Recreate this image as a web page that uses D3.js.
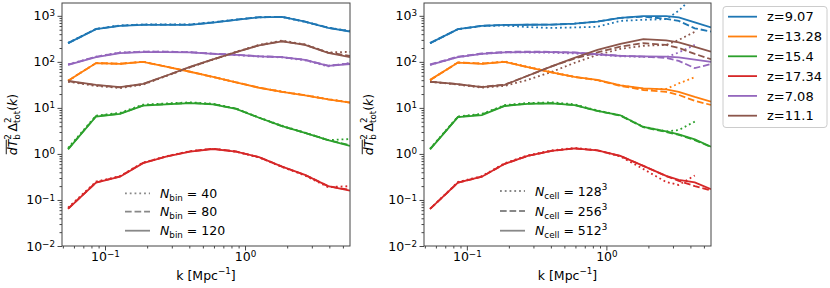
<!DOCTYPE html>
<html><head><meta charset="utf-8">
<script src="https://cdn.jsdelivr.net/npm/d3@7"></script>
<style>
body{margin:0;background:#fff}
svg{display:block}
text{font-family:"DejaVu Sans",sans-serif;fill:#000;white-space:pre}
</style></head>
<body><svg id="c" width="830" height="288"></svg>
<script>
// ---------------- data ----------------
const zLabels = ["z=9.07","z=13.28","z=15.4","z=17.34","z=7.08","z=11.1"];
const zColors = ["#1f77b4","#ff7f0e","#2ca02c","#d62728","#9467bd","#8c564b"];

const kLeft = [0.0545,0.0863,0.128,0.187,0.273,0.405,0.590,0.863,1.26,1.84,2.68,3.92,5.62];
const kRight = [0.0545,0.0863,0.128,0.187,0.273,0.405,0.590,0.863,1.26,1.84,2.68,3.3,4.3,5.62];
const kRight128 = [0.0545,0.0863,0.128,0.187,0.273,0.405,0.590,0.863,1.26,1.84,2.68,3.3,4.3];

// left panel: N_bin = 120 (solid), 80 (dashed), 40 (dotted); rows follow zLabels
const left_Nbin120 = [
 [255,514,606,637,637,637,715,819,928,950,745,548,456],
 [39,94,90,100,79,61,47,36,27.4,22.3,18.7,15.3,13.0],
 [1.26,6.5,7.4,11.2,11.9,12.7,11.9,9.5,6.1,4.0,2.86,2.0,1.49],
 [0.064,0.238,0.32,0.63,0.87,1.12,1.28,1.12,0.85,0.53,0.35,0.20,0.16],
 [86,127,155,163,163,160,149,142,132,127,110,82,90],
 [38.6,31.6,28.2,33.2,50,77.5,113,162,228,279,234,157,127]
];
const left_Nbin80 = [
 [255,518,612,642,642,642,720,825,935,955,750,552,460],
 [39,94,91,100,79,61,47,36,27.5,22.4,18.8,15.4,13.1],
 [1.28,6.6,7.5,11.4,12.1,12.9,12.1,9.6,6.1,4.0,2.88,2.0,1.55],
 [0.065,0.24,0.325,0.64,0.88,1.14,1.3,1.13,0.85,0.53,0.35,0.2,0.165],
 [87,129,158,166,166,162,151,143,133,127,111,83,92],
 [38,31,27.8,33,50,77,113,163,230,282,236,159,135]
];
const left_Nbin40 = [
 [258,522,620,650,650,655,725,830,930,940,740,555,470],
 [39,94,91,101,79,61,47,36,27.5,22.5,18.9,15.5,13.2],
 [1.35,6.8,7.8,11.8,12.5,13.2,12.3,9.7,6.2,4.1,2.9,2.0,2.1],
 [0.068,0.25,0.33,0.65,0.89,1.15,1.3,1.12,0.84,0.52,0.34,0.19,0.2],
 [88,130,160,167,167,163,150,140,130,125,108,80,95],
 [37,30,27,32,49,76,112,165,235,290,240,160,165]
];
// right panel: N_cell = 512^3 (solid), 256^3 (dashed), 128^3 (dotted)
const right_Ncell512 = [
 [255,514,606,637,640,645,675,752,906,990,990,927,722,562],
 [40.6,96.6,90,100,77,59,47,40.6,30.8,26.5,25.2,22.3,17.3,13.7],
 [1.26,6.3,7.0,11,12.2,12.5,11.5,8.6,6.9,3.86,3.08,2.65,2.07,1.44],
 [0.064,0.238,0.32,0.61,0.905,1.16,1.32,1.19,0.905,0.55,0.333,0.272,0.24,0.171],
 [86,127,149,160,163,162,158,145,135,131,130,125,112,100],
 [37.3,32.7,28.2,31.6,50,80,122,182,246,311,293,265,212,167]
];
const right_Ncell256 = [
 [255,514,606,637,640,645,675,752,900,960,861,778,535,456],
 [40,97,92,100,77,59,47,40,30,24.5,22.3,19.2,14.2,11.6],
 [1.28,6.4,7.2,11.2,12.4,12.7,11.6,8.6,6.8,3.8,3.0,2.6,2.0,1.42],
 [0.064,0.238,0.32,0.61,0.905,1.16,1.32,1.19,0.9,0.55,0.33,0.26,0.2,0.16],
 [88,130,152,165,167,165,160,147,136,130,122,105,73,90],
 [37,32.7,28.5,32,50,80,118,160,215,255,234,201,149,114]
];
const right_Ncell128 = [
 [255,514,600,615,570,545,560,577,778,819,847,1285,2860],
 [40,97,92,102,78,60,47,40,31,26,25.8,34,46.5],
 [1.3,6.5,7.4,11.5,12.8,13.2,12,8.8,6.9,3.9,3.1,3.3,5.04],
 [0.064,0.245,0.33,0.63,0.93,1.2,1.35,1.2,0.88,0.47,0.246,0.212,0.34],
 [86,127,149,160,160,158,152,142,132,128,126,160,234],
 [37,32,27.5,30,40.6,60.6,95,142,192,223,234,300,449]
];

const yTickExp = ["−2","−1","0","1","2","3"];
const xTickExp = ["−1","0"];
const leftStyleLabels = ["40","80","120"];
const rightStyleLabels = ["128","256","512"];

// ---------------- layout ----------------
const svg = d3.select("#c");
const yTop = 3, yBot = 246;
const xDomain = [0.0493, 5.62], yDomain = [0.01, 1900];
const LW = 1.8;
const dashes = {dot:`${1*LW},${1.65*LW}`, dash:`${3.7*LW},${1.6*LW}`, solid:null};
const FS = 12.5;
const SP = "\u00a0";

function mathText(parent, pieces, size) {
  const g = parent.append("g");
  let x = 0, lastStart = 0;
  pieces.forEach(p => {
    const fs = size * (p.scale || 1);
    const sx = p.stack ? lastStart : x;
    const t = g.append("text").attr("x", sx).attr("y", -(p.shift || 0) * size)
      .attr("font-size", fs).attr("font-style", p.italic ? "italic" : "normal").text(p.t);
    const w = t.node().getComputedTextLength();
    if (p.overline) {
      g.append("line").attr("x1", sx + 1).attr("x2", sx + w).attr("y1", -size * 0.86).attr("y2", -size * 0.86)
        .attr("stroke", "#000").attr("stroke-width", 0.9);
    }
    if (p.stack) x = Math.max(x, sx + w);
    else { x = x + w; if (p.script) lastStart = sx; }
  });
  return {g, w: x};
}

const ylabelPieces = [
  {t:"dT", italic:true, overline:true},
  {t:"2", scale:0.7, shift:0.5, script:true},
  {t:"b", scale:0.7, shift:-0.25, stack:true},
  {t:"\u2009Δ"},
  {t:"2", scale:0.7, shift:0.5, script:true},
  {t:"tot", scale:0.7, shift:-0.25, stack:true},
  {t:"("}, {t:"k", italic:true}, {t:")"}
];

function drawPanel(x0, x1, kArrs, dataSets, styles, ylabX, legendLabels, legendKind, legX) {
  const x = d3.scaleLog().domain(xDomain).range([x0, x1]);
  const y = d3.scaleLog().domain(yDomain).range([yBot, yTop]);
  const id = "clip" + x0;
  svg.append("clipPath").attr("id", id).append("rect")
    .attr("x", x0).attr("y", yTop).attr("width", x1 - x0).attr("height", yBot - yTop);
  const line = d3.line().x(d => x(d[0])).y(d => y(d[1]));
  const gl = svg.append("g").attr("clip-path", `url(#${id})`);
  dataSets.forEach((set, si) => {
    set.forEach((vals, ci) => {
      const pts = vals.map((v, i) => [kArrs[si][i], v]);
      gl.append("path").attr("d", line(pts)).attr("fill", "none")
        .attr("stroke", zColors[ci]).attr("stroke-width", LW)
        .attr("stroke-dasharray", dashes[styles[si]]);
    });
  });
  // axes
  const majY = yTickExp.map((e, i) => Math.pow(10, i - 2));
  const minY = [];
  for (let e = -2; e <= 3; e++) for (let m = 2; m <= 9; m++) { const v = m * Math.pow(10, e); if (v <= yDomain[1]) minY.push(v); }
  const majX = [0.1, 1];
  const minX = [];
  for (let e = -2; e <= 0; e++) for (let m = 2; m <= 9; m++) { const v = m * Math.pow(10, e); if (v >= xDomain[0] && v <= xDomain[1]) minX.push(v); }

  const ay = svg.append("g").attr("transform", `translate(${x0},0)`)
    .call(d3.axisLeft(y).tickValues(majY).tickSize(4.5).tickPadding(2.5).tickFormat(() => "10"));
  ay.selectAll(".tick text").each(function(d, i) {
    d3.select(this).append("tspan").attr("dy", "-0.45em").attr("font-size", "0.7em").text(yTickExp[i]);
  });
  const ayM = svg.append("g").attr("transform", `translate(${x0},0)`)
    .call(d3.axisLeft(y).tickValues(minY).tickSize(2.5).tickFormat(""));
  const ax = svg.append("g").attr("transform", `translate(0,${yBot})`)
    .call(d3.axisBottom(x).tickValues(majX).tickSize(4.5).tickPadding(1.5).tickFormat(() => "10"));
  ax.selectAll(".tick text").each(function(d, i) {
    d3.select(this).append("tspan").attr("dy", "-0.45em").attr("font-size", "0.7em").text(xTickExp[i]);
  });
  const axM = svg.append("g").attr("transform", `translate(0,${yBot})`)
    .call(d3.axisBottom(x).tickValues(minX).tickSize(2.5).tickFormat(""));
  [ay, ayM, ax, axM].forEach(g => {
    g.attr("font-family", null).attr("font-size", FS).attr("color", "#333");
    g.select(".domain").remove();
    g.selectAll(".tick line").attr("stroke-width", 0.9);
  });
  // spines
  svg.append("rect").attr("x", x0).attr("y", yTop).attr("width", x1 - x0).attr("height", yBot - yTop)
    .attr("fill", "none").attr("stroke", "#444").attr("stroke-width", 1);
  // x label
  const xl = mathText(svg, [{t:"k" + SP + "[Mpc"}, {t:"−1", scale:0.7, shift:0.45}, {t:"]"}], FS);
  xl.g.attr("transform", `translate(${(x0 + x1) / 2 - xl.w / 2},280)`);
  // y label
  const yl = mathText(svg, ylabelPieces, FS);
  yl.g.attr("transform", `translate(${ylabX},${(yTop + yBot) / 2}) rotate(-90) translate(${-yl.w / 2},0)`);
  // style legend
  const rowsY = legendKind === "bin" ? [193.3, 211.7, 230.7] : [191, 211, 230.7];
  const legStyles = ["dot", "dash", "solid"];
  legendLabels.forEach((lab, i) => {
    svg.append("line").attr("x1", legX).attr("x2", legX + 25).attr("y1", rowsY[i]).attr("y2", rowsY[i])
      .attr("stroke", "#888").attr("stroke-width", LW).attr("stroke-dasharray", dashes[legStyles[i]]);
    const pieces = legendKind === "bin"
      ? [{t:"N", italic:true}, {t:"bin", scale:0.7, shift:-0.25}, {t:SP + "=" + SP + lab}]
      : [{t:"N", italic:true}, {t:"cell", scale:0.7, shift:-0.25}, {t:SP + "=" + SP + lab}, {t:"3", scale:0.7, shift:0.45}];
    const m = mathText(svg, pieces, FS);
    m.g.attr("transform", `translate(${legX + 35},${rowsY[i] + 4.5})`);
  });
}

drawPanel(62, 350, [kLeft, kLeft, kLeft], [left_Nbin40, left_Nbin80, left_Nbin120],
  ["dot", "dash", "solid"], 17, leftStyleLabels, "bin", 125);
drawPanel(424, 711, [kRight128, kRight, kRight], [right_Ncell128, right_Ncell256, right_Ncell512],
  ["dot", "dash", "solid"], 373, rightStyleLabels, "cell", 500);

// colour legend
const lg = svg.append("g");
lg.append("rect").attr("x", 723).attr("y", 6.5).attr("width", 104).attr("height", 121).attr("rx", 3)
  .attr("fill", "#fff").attr("stroke", "#ccc").attr("stroke-width", 1);
zLabels.forEach((lab, i) => {
  const yy = 16.7 + i * 19.8;
  lg.append("line").attr("x1", 728).attr("x2", 757).attr("y1", yy).attr("y2", yy)
    .attr("stroke", zColors[i]).attr("stroke-width", LW);
  lg.append("text").attr("x", 767).attr("y", yy + 4.6).attr("font-size", 13).text(lab);
});
</script></body></html>
